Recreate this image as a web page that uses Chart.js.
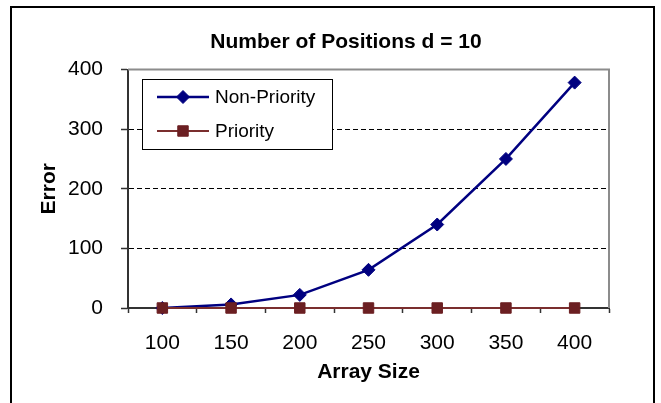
<!DOCTYPE html>
<html>
<head>
<meta charset="utf-8">
<script src="https://cdn.jsdelivr.net/npm/chart.js@4/dist/chart.umd.min.js"></script>
<style>
  html, body { margin: 0; padding: 0; background: #fff; }
  #wrap { position: relative; width: 661px; height: 403px; overflow: hidden; }
  canvas { display: block; position: absolute; left: 0; top: 0; }
  #frame { position: absolute; left: 10px; top: 6px; width: 645px; height: 460px; border: 2px solid #000; box-sizing: border-box; pointer-events: none; }
</style>
</head>
<body>
<div id="wrap">
  <canvas id="c" width="661" height="403"></canvas>
  <div id="frame"></div>
</div>
<script>
const categories = ['100', '150', '200', '250', '300', '350', '400'];
const nonPriority = [0, 6, 22, 64, 140, 250, 378];
const priority = [0, 0, 0, 0, 0, 0, 0];
const seriesNames = ['Non-Priority', 'Priority'];
const yTicks = [0, 100, 200, 300, 400];

const FONT = "'Liberation Sans', Arial, sans-serif";
const NAVY = '#000080';
const MAROON_LINE = '#7a2e2e';
const MAROON_FILL = '#6b1f22';

const plotFrame = {
  id: 'plotFrame',
  beforeDatasetsDraw(chart) {
    const { ctx, chartArea: a } = chart;
    ctx.save();
    ctx.strokeStyle = '#8c8c8c';
    ctx.lineWidth = 2;
    ctx.beginPath();
    ctx.moveTo(a.left, a.top);
    ctx.lineTo(a.right, a.top);
    ctx.lineTo(a.right, a.bottom);
    ctx.stroke();
    ctx.restore();
  }
};

function drawMarker(ctx, style, x, y, r, fill) {
  ctx.fillStyle = fill;
  ctx.strokeStyle = fill;
  ctx.lineWidth = 1;
  ctx.beginPath();
  if (style === 'rectRot') {
    ctx.moveTo(x - r, y); ctx.lineTo(x, y - r); ctx.lineTo(x + r, y); ctx.lineTo(x, y + r);
  } else {
    const s = Math.SQRT1_2 * r;
    ctx.rect(x - s, y - s, 2 * s, 2 * s);
  }
  ctx.closePath();
  ctx.fill();
  ctx.stroke();
}

const boxLegend = {
  id: 'boxLegend',
  afterDraw(chart) {
    const { ctx } = chart;
    const bx = 142, by = 79, bw = 190, bh = 70;
    ctx.save();
    ctx.fillStyle = '#fff';
    ctx.fillRect(bx, by, bw, bh);
    ctx.strokeStyle = '#000';
    ctx.lineWidth = 1;
    ctx.strokeRect(bx + 0.5, by + 0.5, bw, bh);
    const rows = [97, 131];
    chart.data.datasets.forEach((ds, i) => {
      const y = rows[i];
      ctx.strokeStyle = ds.borderColor;
      ctx.lineWidth = ds.borderWidth;
      ctx.beginPath();
      ctx.moveTo(157, y);
      ctx.lineTo(209, y);
      ctx.stroke();
      drawMarker(ctx, ds.pointStyle, 183, y, ds.pointRadius, ds.pointBackgroundColor);
      ctx.fillStyle = '#000';
      ctx.font = '19px ' + FONT;
      ctx.textAlign = 'left';
      ctx.textBaseline = 'middle';
      ctx.fillText(ds.label, 215, y + 1);
    });
    ctx.restore();
  }
};

new Chart(document.getElementById('c'), {
  type: 'line',
  data: {
    labels: categories,
    datasets: [
      {
        label: seriesNames[0], data: nonPriority,
        borderColor: NAVY, backgroundColor: NAVY, borderWidth: 2.5,
        pointStyle: 'rectRot', pointRadius: 6.5, pointBorderWidth: 1,
        pointBackgroundColor: NAVY, pointBorderColor: NAVY,
        tension: 0, clip: false, order: 1, yAxisID: 'y'
      },
      {
        label: seriesNames[1], data: priority,
        borderColor: MAROON_LINE, backgroundColor: MAROON_FILL, borderWidth: 2,
        pointStyle: 'rect', pointRadius: 7.4, pointBorderWidth: 1,
        pointBackgroundColor: MAROON_FILL, pointBorderColor: MAROON_FILL,
        tension: 0, clip: false, order: 0, yAxisID: 'y'
      }
    ]
  },
  options: {
    responsive: false,
    animation: false,
    devicePixelRatio: 1,
    layout: { padding: { left: 31, right: 0, top: 0, bottom: 0 } },
    plugins: {
      legend: { display: false },
      tooltip: { enabled: false },
      title: {
        display: true,
        text: 'Number of Positions d = 10',
        color: '#000',
        font: { family: FONT, size: 21, weight: 'bold', lineHeight: 1.2 },
        padding: { top: 30, bottom: 14.3 }
      }
    },
    scales: {
      x: {
        type: 'category',
        offset: true,
        grid: { offset: true, drawOnChartArea: false, drawTicks: true, tickLength: 5, tickColor: '#333', tickWidth: 1.5 },
        border: { color: '#333', width: 2 },
        ticks: { color: '#000', font: { family: FONT, size: 21 }, padding: 17.7, maxRotation: 0, autoSkip: false },
        title: { display: true, text: 'Array Size', color: '#000', font: { family: FONT, size: 21, weight: 'bold', lineHeight: 1.2 }, padding: { top: 0, bottom: 18 } },
        afterFit(s) { s.height = 95; }
      },
      y: {
        position: 'left',
        min: yTicks[0], max: yTicks[yTicks.length - 1],
        afterBuildTicks(s) { s.ticks = yTicks.map(v => ({ value: v })); },
        ticks: { color: '#000', font: { family: FONT, size: 21 }, padding: 18 },
        grid: {
          color: c => (c.tick && (c.tick.value === 0 || c.tick.value === 400)) ? 'rgba(0,0,0,0)' : '#000',
          lineWidth: 1, drawTicks: true, tickLength: 7, tickColor: '#333', tickWidth: 1.5
        },
        border: { color: '#333', width: 2, dash: [5, 3] },
        title: { display: true, text: 'Error', color: '#000', font: { family: FONT, size: 21, weight: 'bold', lineHeight: 1.2 }, padding: { top: 6, bottom: 0 } },
        afterFit(s) { s.width = 97; }
      },
      yRight: {
        position: 'right',
        display: true,
        min: yTicks[0], max: yTicks[yTicks.length - 1],
        ticks: { display: false },
        grid: { display: false, drawTicks: false },
        border: { display: false },
        title: { display: false },
        afterFit(s) { s.width = 52; }
      }
    }
  },
  plugins: [plotFrame, boxLegend]
});
</script>
</body>
</html>
